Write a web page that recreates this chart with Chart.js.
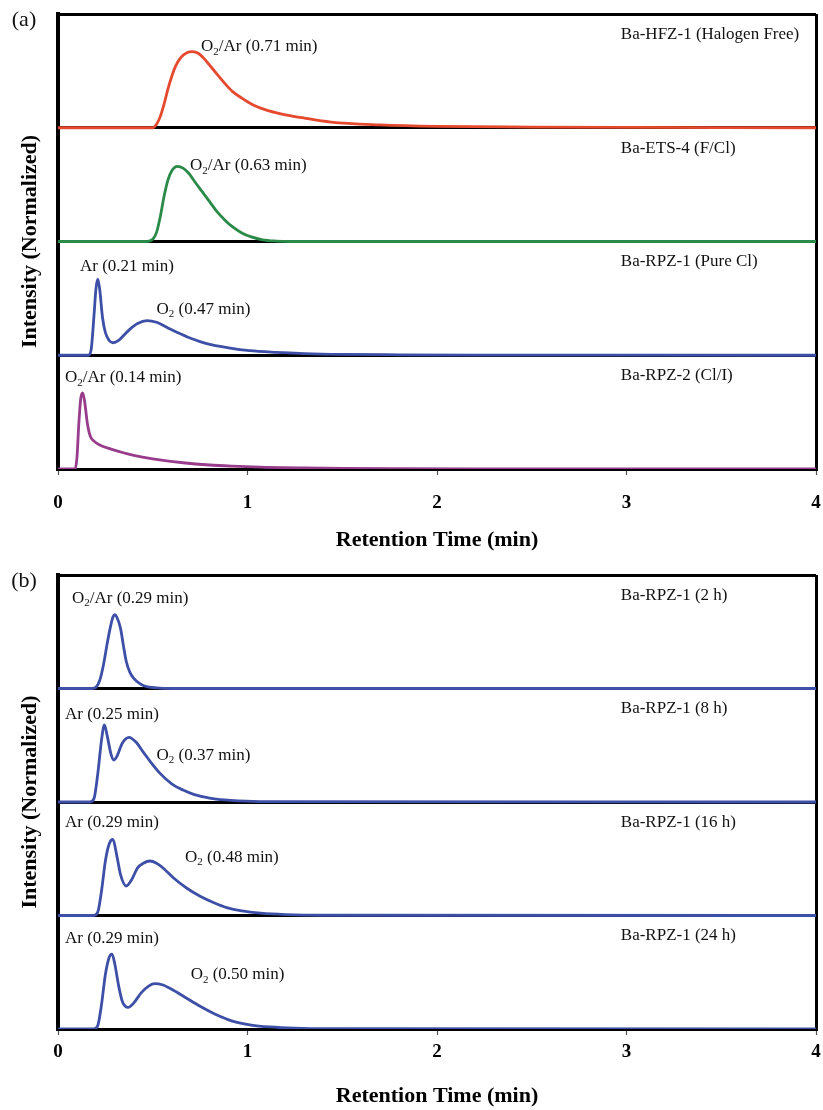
<!DOCTYPE html>
<html><head><meta charset="utf-8">
<script src="https://cdn.jsdelivr.net/npm/chart.js@4.4.1/dist/chart.umd.min.js"></script>
<style>
html,body{margin:0;padding:0;background:#fff;overflow:hidden;width:823px;height:1110px;}
.wrap{position:absolute;left:0;width:823px;}
#wa{top:0;height:555px}
#wb{top:561px;height:549px}
canvas{display:block}
</style></head><body>
<div class="wrap" id="wa"><canvas id="ca" width="823" height="555"></canvas></div>
<div class="wrap" id="wb"><canvas id="cb" width="823" height="549"></canvas></div>
<script>
// ---------- DATA ----------
const xTickLabels = ['0', '1', '2', '3', '4'];

// Panel (a)
const hfzTime      = [0, 0.50, 0.52, 0.54, 0.56, 0.58, 0.60, 0.62, 0.65, 0.68, 0.71, 0.74, 0.77, 0.80, 0.84, 0.88, 0.92, 0.97, 1.03, 1.10, 1.17, 1.30, 1.44, 1.70, 2.0, 2.5, 3.0, 3.5, 4.0];
const hfzIntensity = [0, 0, 0.03, 0.10, 0.21, 0.34, 0.45, 0.54, 0.62, 0.66, 0.67, 0.655, 0.61, 0.55, 0.47, 0.39, 0.32, 0.26, 0.20, 0.155, 0.125, 0.085, 0.05, 0.025, 0.012, 0.006, 0.003, 0.001, 0];

const etsTime      = [0, 0.47, 0.50, 0.52, 0.54, 0.56, 0.58, 0.60, 0.63, 0.66, 0.69, 0.72, 0.76, 0.80, 0.84, 0.88, 0.92, 0.97, 1.02, 1.08, 1.15, 1.22, 4.0];
const etsIntensity = [0, 0, 0.02, 0.08, 0.22, 0.40, 0.54, 0.62, 0.66, 0.645, 0.60, 0.53, 0.44, 0.35, 0.26, 0.19, 0.13, 0.075, 0.04, 0.015, 0.004, 0, 0];

const rpz1Time      = [0, 0.16, 0.175, 0.19, 0.20, 0.21, 0.22, 0.235, 0.25, 0.27, 0.29, 0.32, 0.35, 0.38, 0.42, 0.47, 0.52, 0.58, 0.63, 0.70, 0.79, 0.90, 1.01, 1.15, 1.3, 1.5, 1.8, 2.2, 4.0];
const rpz1Intensity = [0, 0, 0.05, 0.35, 0.58, 0.67, 0.58, 0.33, 0.20, 0.13, 0.11, 0.13, 0.18, 0.23, 0.28, 0.305, 0.29, 0.24, 0.20, 0.15, 0.10, 0.065, 0.04, 0.025, 0.015, 0.008, 0.004, 0.001, 0];

const rpz2Time      = [0, 0.09, 0.10, 0.11, 0.12, 0.13, 0.14, 0.155, 0.17, 0.19, 0.22, 0.28, 0.34, 0.40, 0.50, 0.66, 0.80, 0.92, 1.1, 1.3, 1.5, 1.8, 2.2, 4.0];
const rpz2Intensity = [0, 0, 0.10, 0.40, 0.62, 0.67, 0.60, 0.40, 0.29, 0.245, 0.21, 0.175, 0.145, 0.12, 0.09, 0.055, 0.035, 0.025, 0.015, 0.009, 0.005, 0.002, 0, 0];

// Panel (b)
const h2Time      = [0, 0.18, 0.20, 0.22, 0.24, 0.26, 0.275, 0.29, 0.30, 0.31, 0.33, 0.345, 0.36, 0.38, 0.40, 0.43, 0.46, 0.52, 0.6, 4.0];
const h2Intensity = [0, 0, 0.01, 0.07, 0.21, 0.40, 0.53, 0.63, 0.65, 0.63, 0.53, 0.38, 0.24, 0.14, 0.09, 0.045, 0.02, 0.005, 0, 0];

const h8Time      = [0, 0.17, 0.19, 0.21, 0.23, 0.245, 0.26, 0.28, 0.295, 0.31, 0.34, 0.375, 0.41, 0.45, 0.49, 0.54, 0.60, 0.66, 0.72, 0.80, 0.88, 0.95, 1.1, 4.0];
const h8Intensity = [0, 0, 0.03, 0.25, 0.55, 0.68, 0.58, 0.42, 0.37, 0.40, 0.52, 0.57, 0.53, 0.44, 0.35, 0.25, 0.16, 0.105, 0.065, 0.035, 0.018, 0.01, 0.003, 0];

const h16Time      = [0, 0.19, 0.21, 0.23, 0.25, 0.27, 0.29, 0.31, 0.33, 0.36, 0.39, 0.42, 0.45, 0.485, 0.52, 0.56, 0.61, 0.68, 0.75, 0.82, 0.89, 0.97, 1.07, 1.2, 1.4, 4.0];
const h16Intensity = [0, 0, 0.03, 0.22, 0.48, 0.63, 0.67, 0.53, 0.36, 0.26, 0.32, 0.42, 0.46, 0.48, 0.46, 0.41, 0.33, 0.24, 0.17, 0.115, 0.07, 0.04, 0.02, 0.008, 0.002, 0];

const h24Time      = [0, 0.19, 0.21, 0.23, 0.25, 0.27, 0.285, 0.30, 0.32, 0.34, 0.37, 0.40, 0.44, 0.48, 0.51, 0.55, 0.60, 0.67, 0.75, 0.83, 0.92, 1.02, 1.12, 1.25, 1.4, 4.0];
const h24Intensity = [0, 0, 0.03, 0.22, 0.48, 0.63, 0.66, 0.57, 0.38, 0.24, 0.19, 0.23, 0.32, 0.38, 0.40, 0.39, 0.35, 0.28, 0.20, 0.13, 0.07, 0.035, 0.018, 0.007, 0.002, 0];

const sampleNamesA = ['Ba-HFZ-1 (Halogen Free)', 'Ba-ETS-4 (F/Cl)', 'Ba-RPZ-1 (Pure Cl)', 'Ba-RPZ-2 (Cl/I)'];
const sampleNamesB = ['Ba-RPZ-1 (2 h)', 'Ba-RPZ-1 (8 h)', 'Ba-RPZ-1 (16 h)', 'Ba-RPZ-1 (24 h)'];

// ---------- STYLE / LAYOUT ----------
const SERIF = "'Liberation Serif', 'Times New Roman', serif";
const RED = '#e5492e', GREEN = '#2a8a48', BLUE = '#3d4fa6', PURPLE = '#983c8c';

const seriesA = [
  {time: hfzTime, val: hfzIntensity, color: RED},
  {time: etsTime, val: etsIntensity, color: GREEN},
  {time: rpz1Time, val: rpz1Intensity, color: BLUE},
  {time: rpz2Time, val: rpz2Intensity, color: PURPLE}
];
const seriesB = [
  {time: h2Time, val: h2Intensity, color: BLUE},
  {time: h8Time, val: h8Intensity, color: BLUE},
  {time: h16Time, val: h16Intensity, color: BLUE},
  {time: h24Time, val: h24Intensity, color: BLUE}
];
// label placement: strip index, anchor time (left edge of text), height within strip
const peakLabelsA = [
  {strip: 0, text: 'O₂/Ar (0.71 min)', t: 0.755, h: 0.71},
  {strip: 1, text: 'O₂/Ar (0.63 min)', t: 0.697, h: 0.665},
  {strip: 2, text: 'Ar (0.21 min)', t: 0.116, h: 0.776},
  {strip: 2, text: 'O₂ (0.47 min)', t: 0.52, h: 0.40},
  {strip: 3, text: 'O₂/Ar (0.14 min)', t: 0.037, h: 0.80}
];
const peakLabelsB = [
  {strip: 0, text: 'O₂/Ar (0.29 min)', t: 0.074, h: 0.79},
  {strip: 1, text: 'Ar (0.25 min)', t: 0.037, h: 0.775},
  {strip: 1, text: 'O₂ (0.37 min)', t: 0.52, h: 0.41},
  {strip: 2, text: 'Ar (0.29 min)', t: 0.037, h: 0.82},
  {strip: 2, text: 'O₂ (0.48 min)', t: 0.67, h: 0.51},
  {strip: 3, text: 'Ar (0.29 min)', t: 0.037, h: 0.80},
  {strip: 3, text: 'O₂ (0.50 min)', t: 0.70, h: 0.476}
];

function drawRich(ctx, text, x, y, size) {
  ctx.save();
  ctx.fillStyle = '#111';
  ctx.textBaseline = 'middle';
  ctx.textAlign = 'left';
  const parts = text.split('₂');
  let cx = x;
  parts.forEach((p, i) => {
    ctx.font = size + 'px ' + SERIF;
    ctx.fillText(p, cx, y);
    cx += ctx.measureText(p).width;
    if (i < parts.length - 1) {
      ctx.font = Math.round(size * 0.65) + 'px ' + SERIF;
      ctx.fillText('2', cx, y + size * 0.28);
      cx += ctx.measureText('2').width;
    }
  });
  ctx.restore();
}

function makeChart(canvasId, series, peakLabels, sampleNames, letter, tickPad, axisH, titlePadBottom) {
  const nStrips = series.length;
  const datasets = series.map((s, i) => ({
    data: s.time.map((t, k) => ({x: t, y: (nStrips - 1 - i) + s.val[k]})),
    borderColor: s.color,
    borderWidth: 2.8,
    pointRadius: 0,
    fill: false,
    cubicInterpolationMode: 'monotone'
  }));
  const textPlugin = {
    id: 'texts' + canvasId,
    afterDatasetsDraw(chart) {
      const ctx = chart.ctx, xs = chart.scales.x, ys = chart.scales.y;
      peakLabels.forEach(l => {
        drawRich(ctx, l.text, xs.getPixelForValue(l.t), ys.getPixelForValue(nStrips - 1 - l.strip + l.h), 17);
      });
      sampleNames.forEach((n, i) => {
        drawRich(ctx, n, xs.getPixelForValue(2.97), ys.getPixelForValue(nStrips - 1 - i + 0.82), 17);
      });
      ctx.save();
      ctx.font = '22px ' + SERIF;
      ctx.fillStyle = '#111';
      ctx.textAlign = 'center';
      ctx.textBaseline = 'middle';
      ctx.fillText(letter, 24, 20);
      ctx.restore();
    }
  };
  return new Chart(document.getElementById(canvasId), {
    type: 'line',
    data: {datasets},
    plugins: [textPlugin],
    options: {
      responsive: false,
      animation: false,
      layout: {padding: {top: 14, right: 7, left: 0, bottom: 0}},
      plugins: {legend: {display: false}, tooltip: {enabled: false}},
      scales: {
        x: {
          type: 'linear', min: 0, max: 4,
          ticks: {stepSize: 1, color: '#000', padding: tickPad,
                  font: {family: SERIF, size: 19, weight: 'bold'},
                  callback: (v) => xTickLabels[Math.round(v)]},
          grid: {color: (c) => (c.tick && c.tick.value === 4) ? '#000' : 'rgba(0,0,0,0)',
                 lineWidth: 3, drawTicks: true, tickLength: 6, tickColor: '#555', tickWidth: 1.2},
          border: {display: true, color: '#000', width: 3},
          title: {display: true, text: 'Retention Time (min)', color: '#000',
                  font: {family: SERIF, size: 22, weight: 'bold'},
                  padding: {top: 0, bottom: titlePadBottom}},
          afterFit: (s) => { s.height = axisH; s.paddingLeft = 0; s.paddingRight = 0; }
        },
        y: {
          min: 0, max: nStrips,
          ticks: {display: false, stepSize: 1},
          grid: {color: '#000', lineWidth: 3, drawTicks: false},
          border: {display: true, color: '#000', width: 4},
          title: {display: true, text: 'Intensity (Normalized)', color: '#000',
                  font: {family: SERIF, size: 22, weight: 'bold'},
                  padding: {top: 17, bottom: 0}},
          afterFit: (s) => { s.width = 58; s.paddingTop = 0; s.paddingBottom = 0; }
        }
      }
    }
  });
}

makeChart('ca', seriesA, peakLabelsA, sampleNamesA, '(a)', 17, 86, 1);
makeChart('cb', seriesB, peakLabelsB, sampleNamesB, '(b)', 6, 81, 0);
</script>
</body></html>
